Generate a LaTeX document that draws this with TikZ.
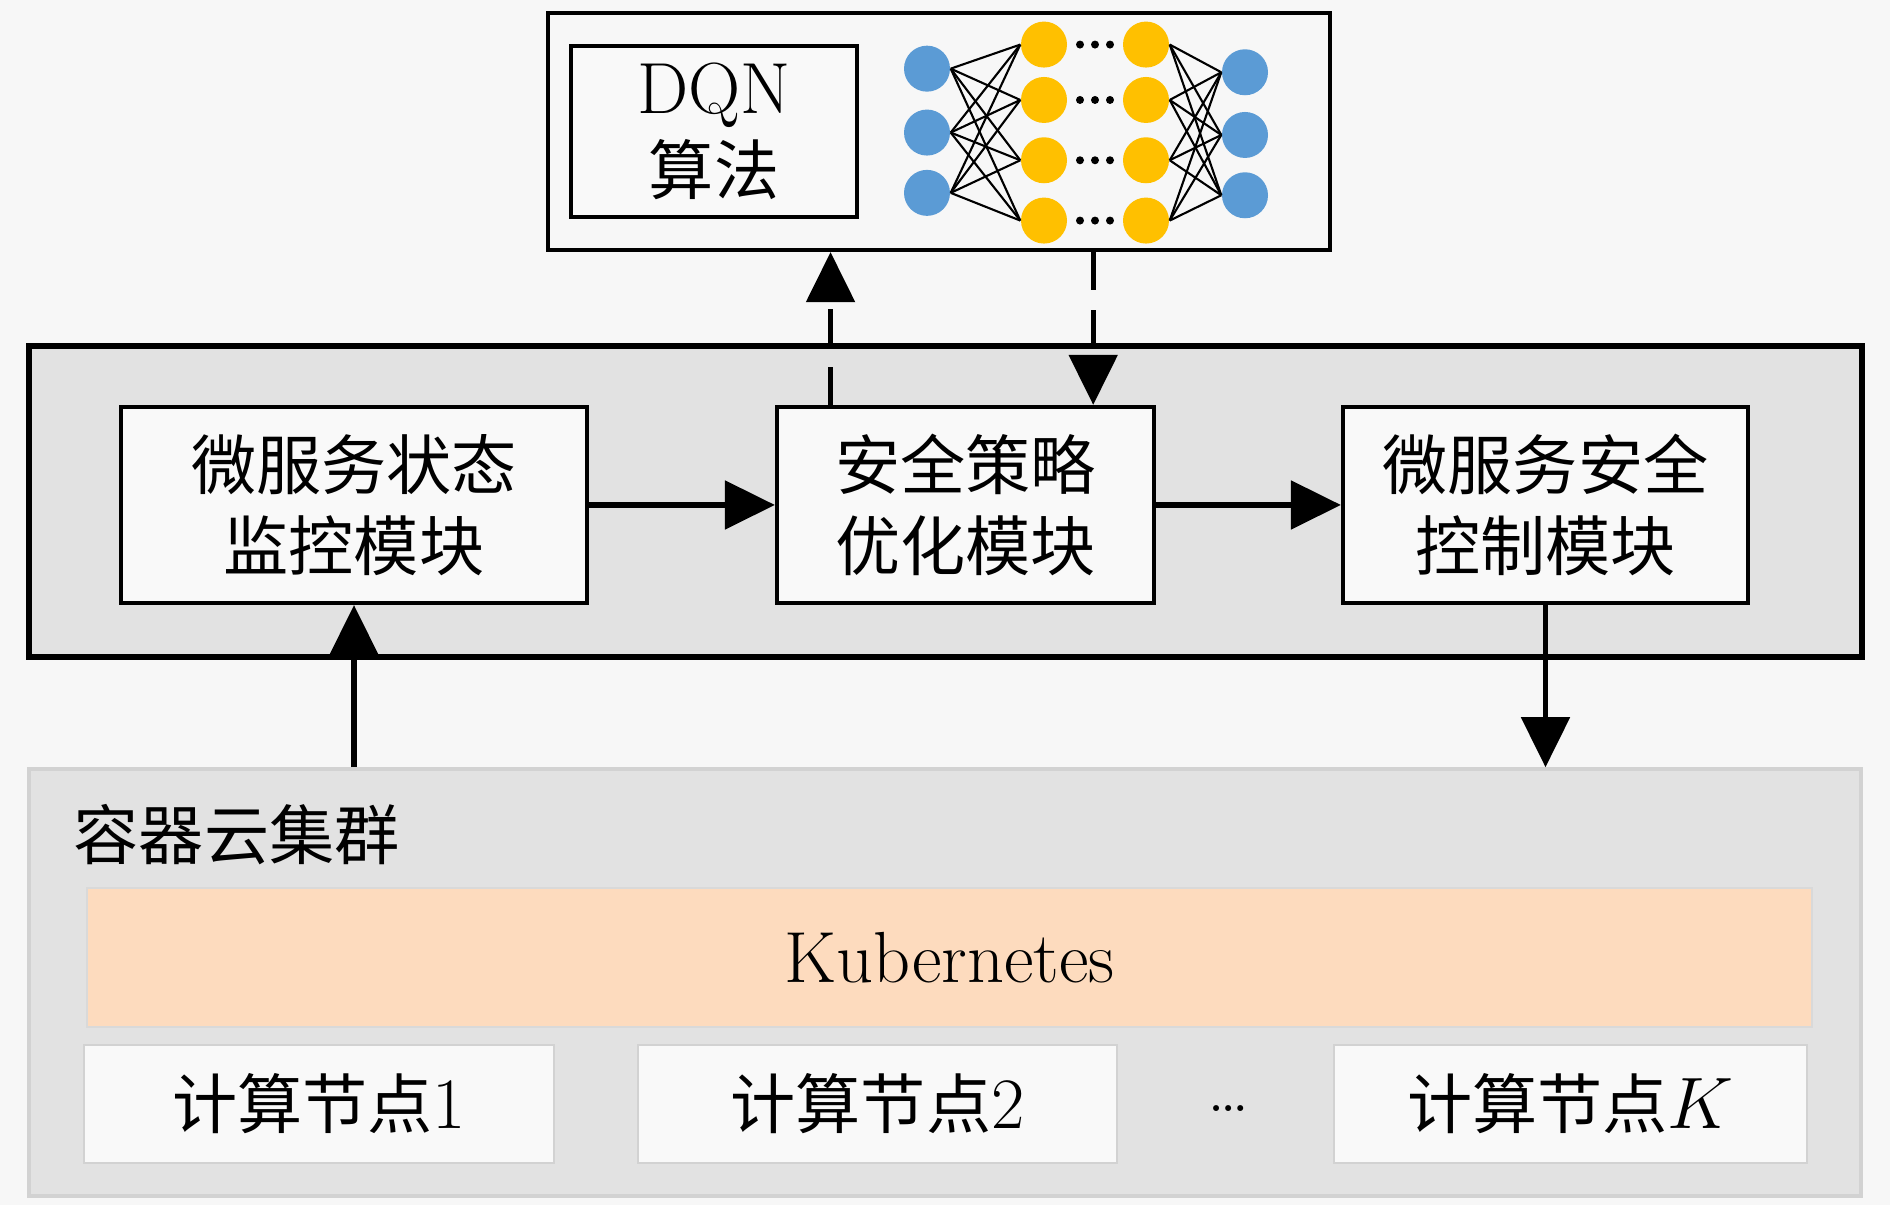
\documentclass[tikz,border=0pt]{standalone}
\usepackage{fontspec}
\newfontfamily\cjk{Noto Sans CJK SC}[Scale=0.9]
\usepackage{xcolor}
\usepackage{tikz}
\usetikzlibrary{arrows.meta,positioning,calc}

\definecolor{pagebg}{HTML}{F7F7F7}
\definecolor{panelgray}{HTML}{E2E2E2}
\definecolor{boxwhite}{HTML}{F9F9F9}
\definecolor{kubepeach}{HTML}{FDDBBE}
\definecolor{netblue}{HTML}{5B9BD5}
\definecolor{netyellow}{HTML}{FFC000}

\begin{document}
\begin{tikzpicture}[>={Triangle[length=0.5cm,width=0.48cm]}, font={\fontsize{20.6}{23}\selectfont},
  module/.style={draw=black, line width=1.2pt, fill=boxwhite, align=center, inner sep=0pt},
  worker/.style={draw=gray!35, line width=0.8pt, fill=boxwhite, inner sep=0pt, minimum height=1.18cm},
  neuron/.style={circle, minimum size=0.46cm, inner sep=0pt},
  flow/.style={->, line width=1.5pt},
  probe/.style={flow, dash pattern=on 0.38cm off 0.2cm}]
  % Page
  \fill[pagebg] (0,0) rectangle (18.9,12.05);
  \useasboundingbox (0,0) rectangle (18.9,12.05);

  % DQN panel
  \node[draw, line width=1.2pt, fill=pagebg, minimum width=7.82cm, minimum height=2.37cm, inner sep=0pt] (dqnpanel) at (9.39, 10.735) {};
  \node[module, minimum width=2.86cm, minimum height=1.71cm] (dqn) at (7.14, 10.735) {DQN\\{\cjk 算法}};

  % Network
  \foreach \y [count=\i] in {11.363, 10.724, 10.121}
    \node[neuron, fill=netblue] (in\i) at (9.27, \y) {};
  \foreach \y [count=\j] in {11.604, 11.05, 10.447, 9.844} {
    \node[neuron, fill=netyellow] (ha\j) at (10.44, \y) {};
    \node[neuron, fill=netyellow] (hb\j) at (11.46, \y) {};
  }
  \foreach \y [count=\i] in {11.327, 10.70, 10.097}
    \node[neuron, fill=netblue] (out\i) at (12.45, \y) {};
  \foreach \i in {1,2,3}
    \foreach \j in {1,...,4} {
      \draw[line width=0.6pt] (in\i.east) -- (ha\j.west);
      \draw[line width=0.6pt] (hb\j.east) -- (out\i.west);
    }
  \foreach \j in {1,...,4}
    \foreach \dx in {-0.15, 0, 0.15}
      \fill ($(ha\j)!0.5!(hb\j) + (\dx, 0)$) circle (0.04);

  % Core modules
  \node[draw, line width=1.8pt, fill=panelgray, minimum width=18.33cm, minimum height=3.11cm, inner sep=0pt] (core) at (9.455, 7.035) {};
  \node[module, minimum width=4.66cm, minimum height=1.96cm] (monitor) at (3.54, 7.0) {\cjk 微服务状态\\\cjk 监控模块};
  \node[module, minimum width=3.77cm, minimum height=1.96cm] (optimizer) at (9.655, 7.0) {\cjk 安全策略\\\cjk 优化模块};
  \node[module, minimum width=4.05cm, minimum height=1.96cm] (controller) at (15.455, 7.0) {\cjk 微服务安全\\\cjk 控制模块};

  \draw[flow] (monitor) -- (optimizer);
  \draw[flow] (optimizer) -- (controller);

  \coordinate (ask) at ($(optimizer.north west)!0.146!(optimizer.north east)$);
  \coordinate (reply) at ($(optimizer.north west)!0.835!(optimizer.north east)$);
  \draw[probe] (ask) -- (ask |- dqnpanel.south);
  \draw[probe] (reply |- dqnpanel.south) -- (reply);

  % Cluster
  \node[draw=gray!35, line width=1pt, fill=panelgray, minimum width=18.32cm, minimum height=4.27cm, inner sep=0pt] (cluster) at (9.45, 2.225) {};
  \node[anchor=west, inner sep=0pt] (clusterlabel) at (0.73, 3.70) {\cjk 容器云集群};
  \node[draw=gray!30, line width=0.8pt, fill=kubepeach, minimum width=17.25cm, minimum height=1.39cm, inner sep=0pt] (kube) at (9.495, 2.475) {Kubernetes};
  \node[worker, minimum width=4.70cm] (node1) at (3.19, 1.01) {{\cjk 计算节点}1};
  \node[worker, minimum width=4.79cm] (node2) at (8.775, 1.01) {{\cjk 计算节点}2};
  \node[worker, minimum width=4.73cm] (nodek) at (15.705, 1.01) {{\cjk 计算节点}$K$};
  \node (more) at (12.29, 0.96) {\dots};

  \draw[flow] (cluster.north -| monitor.south) -- (monitor.south);
  \draw[flow] (controller.south) -- (controller.south |- cluster.north);
\end{tikzpicture}
\end{document}
